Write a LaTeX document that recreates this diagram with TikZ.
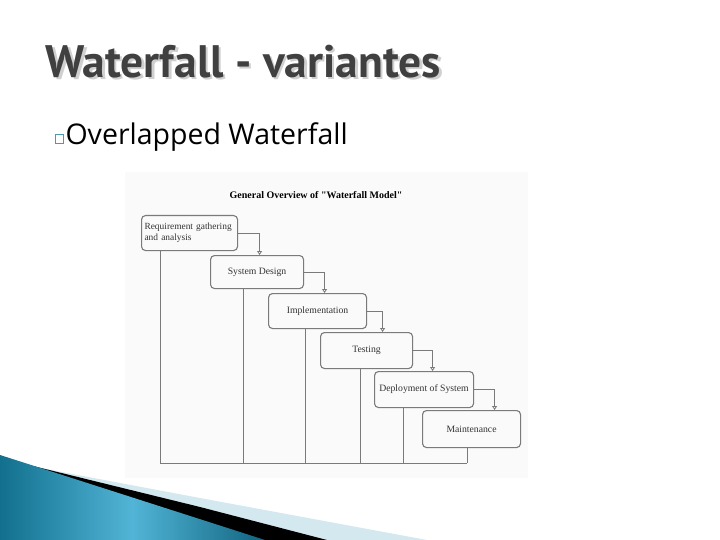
\documentclass[tikz,border=0pt]{standalone}
\usepackage{fontspec}
\setmainfont{Liberation Serif}
\newfontfamily\slidefont{PT Sans}
\newfontfamily\bulletfont{Open Sans}
\usetikzlibrary{positioning,arrows.meta}
\definecolor{titlegray}{HTML}{404040}
\definecolor{shadowgray}{HTML}{D0D0D0}
\definecolor{bulletteal}{HTML}{4A9AB0}
\definecolor{boxline}{HTML}{7A7A7A}
\definecolor{wavedark}{HTML}{12708E}
\definecolor{wavelight}{HTML}{52B4D6}
\definecolor{wavepale}{HTML}{D4E8F0}
\newcommand{\shadowtext}[1]{\makebox[0pt][l]{\hspace{2.5pt}\raisebox{-1.5pt}{\color{shadowgray}#1}}#1}
\tikzset{%
  every phase/.style={
    draw=boxline,
    line width=1.1pt,
    rounded corners=4pt,
    anchor=north west,
    inner sep=2pt,
    font=\fontsize{9.7}{11}\selectfont,
    text=black!80
  },
  flow/.style={
    draw=boxline,
    line width=0.8pt
  },
}

\begin{document}
\begin{tikzpicture}[x=1pt,y=-1pt,>={Triangle[open,length=4pt,width=5pt]}]
        \useasboundingbox (0,0) rectangle (720,540);
        \tikzstyle{phase}=[every phase,minimum height=35pt]

        % slide title
        \node[anchor=base west,text=titlegray,font=\slidefont\bfseries\fontsize{45.5}{50}\selectfont] (title) at (42,78) {\shadowtext{Waterfall - variantes}};
        \draw[bulletteal,line width=0.7pt] (55,134) rectangle (63,143);
        \node[anchor=base west,font=\bulletfont\fontsize{28.5}{32}\selectfont] (sub) at (62,145) {Overlapped Waterfall};

        % picture
        \fill[black!2] (125,172) rectangle (528,478);
        \node[font=\bfseries\fontsize{10}{12}\selectfont] (head) at (316,195) {General Overview of \textquotedbl Waterfall Model\textquotedbl};

        \node[phase,minimum width=96pt,align=left,text width=90pt,inner xsep=3pt,inner ysep=4pt,font=\fontsize{9.4}{11}\selectfont] (req) at (141,215) {Requirement gathering\\and analysis};
        \node[phase,minimum width=93pt,minimum height=33pt] (design) at (210,255) {System Design};
        \node[phase,minimum width=98pt] (impl) at (268,293) {Implementation};
        \node[phase,minimum width=92pt,minimum height=36pt] (test) at (320,332) {Testing};
        \node[phase,minimum width=99pt,minimum height=36pt] (deploy) at (374,371) {Deployment of System};
        \node[phase,minimum width=98pt,minimum height=37pt] (maint) at (422,410) {Maintenance};

        \draw[flow,->] (req.east) -| ([xshift=2.5pt]design.north);
        \draw[flow,->] (design.east) -| ([xshift=7pt]impl.north);
        \draw[flow,->] (impl.east) -| ([xshift=16pt]test.north);
        \draw[flow,->] (test.east) -| ([xshift=8.5pt]deploy.north);
        \draw[flow,->] (deploy.east) -| ([xshift=23pt]maint.north);

        \coordinate (base) at (0,463);
        \foreach \p/\dx in {req/19,design/33,impl/37,test/40,deploy/29,maint/45}
          \draw[flow] ([xshift=\dx pt]\p.south west) -- ([xshift=\dx pt]\p.south west |- base) coordinate (\p-foot);
        \draw[flow] (req-foot) -- (maint-foot);

        % corner wave
        \fill[wavepale] (0,460) -- (67,473) -- (200,498) -- (427,540) -- (0,540) -- cycle;
        \fill[black] (0,456) -- (33,466) -- (200,507) -- (327,540) -- (0,540) -- cycle;
        \shade[left color=wavedark,right color=wavedark!90!black,middle color=wavelight] (0,455) -- (265,540) -- (0,540) -- cycle;
\end{tikzpicture}
\end{document}
